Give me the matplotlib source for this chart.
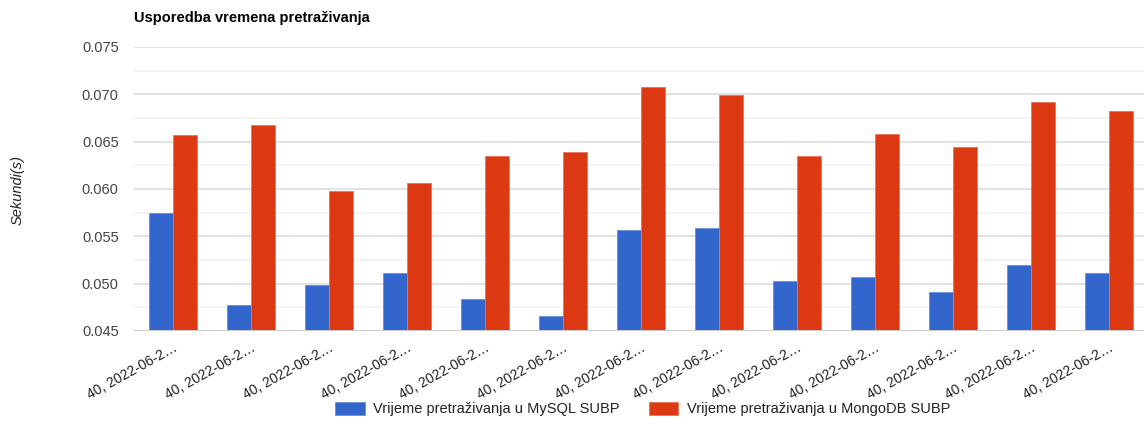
import numpy as np
import matplotlib.pyplot as plt
from matplotlib.ticker import MultipleLocator

categories = ["40, 2022-06-2…"] * 13
mysql = [0.05746, 0.04775, 0.04986, 0.05113, 0.04838, 0.04658, 0.05567,
         0.05588, 0.05028, 0.05070, 0.04912, 0.05197, 0.05113]
mongo = [0.06570, 0.06676, 0.05979, 0.06063, 0.06349, 0.06391, 0.07077,
         0.06993, 0.06349, 0.06581, 0.06444, 0.06919, 0.06824]
series_names = ["Vrijeme pretraživanja u MySQL SUBP",
                "Vrijeme pretraživanja u MongoDB SUBP"]

plt.rcParams['font.family'] = ['Liberation Sans', 'DejaVu Sans']

fig = plt.figure(figsize=(11.44, 4.24), dpi=100)
ax = fig.add_axes([134 / 1144, 93 / 424, 1010 / 1144, 284 / 424])

x = np.arange(len(categories))
w = 0.305
ax.bar(x - w / 2 - 0.005, mysql, w, color="#3366cc", edgecolor="#6d8fd9",
       linewidth=0.6, label=series_names[0], zorder=3)
ax.bar(x + w / 2 + 0.005, mongo, w, color="#dc3912", edgecolor="#e9735a",
       linewidth=0.6, label=series_names[1], zorder=3)

ax.set_ylim(0.045, 0.075)
ax.set_xlim(-0.5, 12.45)
ax.yaxis.set_major_locator(MultipleLocator(0.005))
ax.yaxis.set_minor_locator(MultipleLocator(0.0025))
ax.grid(axis='y', which='major', color="#dadada", linewidth=1.1, zorder=0)
ax.grid(axis='y', which='minor', color="#f0f0f0", linewidth=1.1, zorder=0)
ax.axhline(0.045, color="#cccccc", linewidth=1.4, zorder=4)
for s in ax.spines.values():
    s.set_visible(False)
ax.tick_params(axis='both', which='both', length=0)
ax.tick_params(axis='y', labelsize=10.5, labelcolor="#444444", pad=11)
ax.set_yticklabels([f"{v:.3f}" for v in ax.get_yticks()])
ax.set_xticks(x)
ax.set_xticklabels(categories, rotation=29, ha='right', rotation_mode='anchor',
                   fontsize=10, color="#222222")
ax.tick_params(axis='x', pad=7)

fig.text(134 / 1144, 1 - 18 / 424, "Usporedba vremena pretraživanja",
         fontsize=10.5, fontweight='bold', va='center', ha='left', color="#000000")
fig.text(18 / 1144, 1 - 190 / 424, "Sekundi(s)", rotation=90, fontsize=10.5,
         style='italic', va='center', ha='center', color="#222222")

fig.legend(loc='center', bbox_to_anchor=(0.562, 15 / 424), ncol=2, frameon=False,
           fontsize=10.5, handlelength=2.0, handleheight=1.0, columnspacing=2.0,
           handletextpad=0.6, labelcolor="#222222")

fig.savefig("out.png", dpi=100)
